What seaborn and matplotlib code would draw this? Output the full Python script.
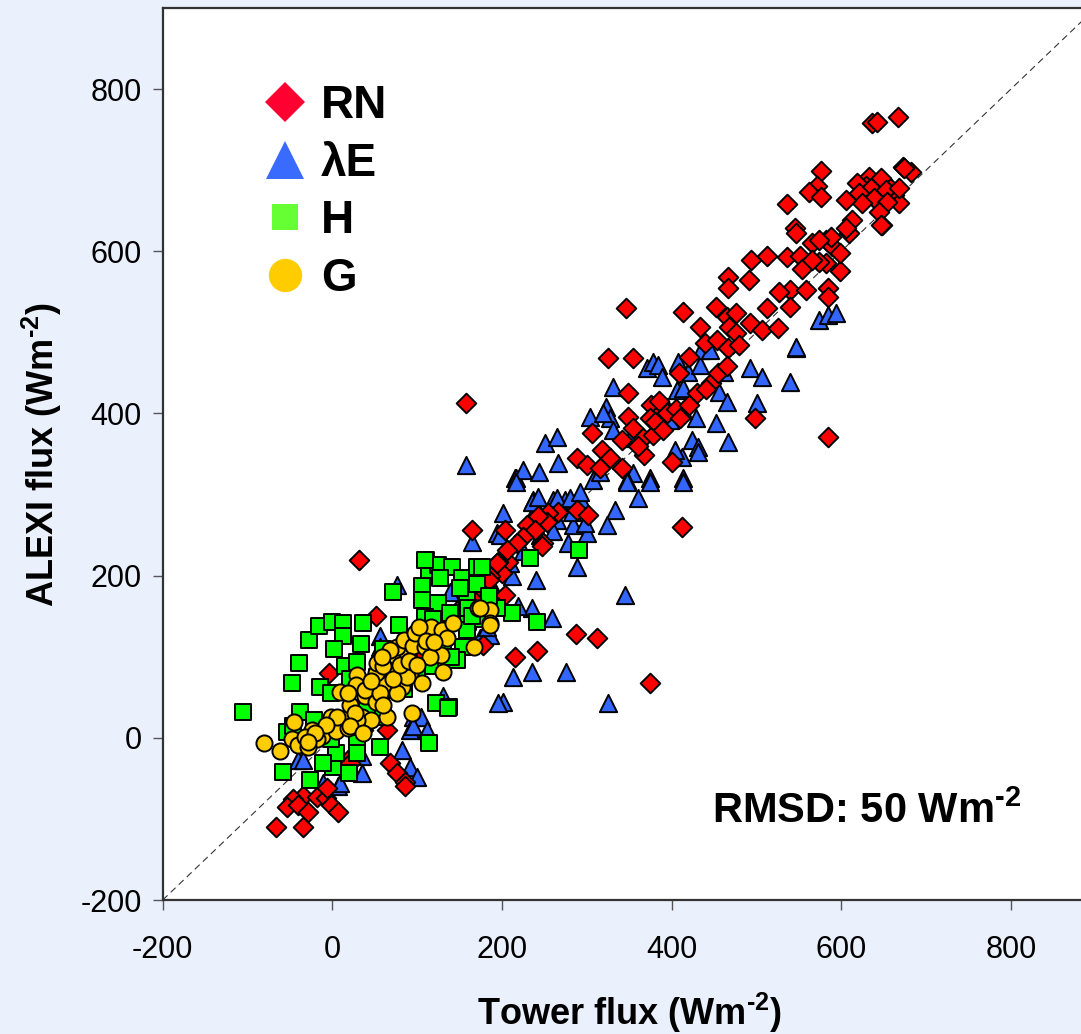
import matplotlib
matplotlib.use("Agg")
import matplotlib.pyplot as plt
from matplotlib.lines import Line2D
import seaborn as sns
import pandas as pd

# ---------------- data ----------------
rn_x = [636, 642, 667, 673, 682, 648, 655, 662, 668, 648, 576, 572, 562, 576, 536, 546, 547,
        494, 512, 536, 551, 566, 582, 589, 609, 582, 598, 554, 574, 467, 466, 491,
        539, 559, 584, 584, 539, 513, 527, 346, 413, 452, 465, 476, 492, 506, 525,
        434, 468, 476, 439, 453, 466, 325, 354, 421, 633, 647, 629, 618, 635, 653, 668, 621, 639,
        625, 654, 606, 645, 647, 674, 613, 606, 588, 574, 598, 566,
        158, 409, 447, 348, 376, 386, 374, 348, 354, 306, 366, 342, 378, 318, 327, 368, 341, 289,
        300, 315, 401, 498, 288, 301, 266, 254, 253, 242, 229, 239, 225, 204, 248, 165, 412,
        380, 395, 405, 420, 390, 410, 360, 430, 440, 455, 465, 480, 385,
        207, 195, 200, 186, 180, 178, 204, 247, 218, 206,
        287, 312, 241, 215, 374, 584, 178,
        31, 51, -4, 68, 76, 86, 86, -35, -46, -53, -41, -29, -18, -8, -2, 7, -67, -35, -6,
        18, 21, 36, 65, 194, 130, 150, 160, 170, 175, 185, 140, 120, 110, 100]
rn_y = [758, 760, 765, 704, 698, 688, 680, 670, 660, 632, 699, 680, 673, 667, 658, 629, 623,
        589, 594, 593, 594, 610, 614, 607, 623, 586, 576, 578, 587, 568, 555, 564,
        552, 552, 555, 543, 531, 530, 550, 530, 525, 531, 519, 524, 512, 503, 505,
        506, 507, 499, 487, 491, 481, 469, 469, 470, 692, 690, 680, 684, 678, 676, 678, 672, 666,
        660, 661, 663, 649, 633, 703, 639, 629, 618, 614, 598, 589,
        413, 450, 438, 425, 411, 401, 395, 396, 382, 376, 370, 367, 374, 355, 345, 349, 333, 345,
        337, 333, 340, 395, 281, 275, 279, 277, 266, 273, 263, 256, 248, 256, 240, 256, 260,
        390, 400, 405, 410, 380, 395, 360, 425, 430, 450, 458, 485, 415,
        217, 217, 203, 199, 189, 176, 176, 236, 240, 232,
        128, 123, 107, 100, 67, 371, 115,
        219, 150, 80, -31, -43, -54, -60, -72, -76, -85, -83, -92, -73, -74, -83, -91, -110, -110, -62,
        -27, -31, 10, 10, 216, 140, 160, 170, 175, 185, 195, 150, 125, 115, 100]

le_x = [158, 215, 201, 165, 194, 251, 265, 216, 225, 244, 266, 304, 323, 331, 327,
        371, 378, 384, 389, 407, 406, 413, 419, 433, 435, 456, 465, 462, 492, 506, 539, 547, 501,
        429, 452, 466, 424, 431, 431, 413, 412, 374, 360, 333, 324, 300, 284, 282, 294, 307, 315,
        354, 347, 394, 398, 413, 404, 351, 331, 319, 236, 260, 274, 233, 265, 298, 198,
        574, 584, 594, 547, 445, 216, 347, 374, 414, 278, 288, 240, 345, 235, 259,
        213, 235, 275, 201, 325, 235, 242, 265, 280, 292, 212, 219, 186,
        76, 139, 131, 195, 95, 104, 112, 92, 82, 92, 100, 35, 35, 7, 9, -11, -41, -34,
        56, 56, 174, 182, 95, 150, 120, 100, 80, 60, 170, 190, 210, 225, 245, 260]
le_y = [337, 321, 277, 242, 253, 364, 371, 321, 330, 328, 339, 396, 408, 433, 395,
        456, 464, 460, 445, 464, 429, 432, 451, 460, 478, 427, 414, 451, 456, 445, 439, 481, 413,
        395, 388, 365, 367, 359, 353, 321, 346, 321, 296, 281, 263, 253, 263, 279, 291, 318, 328,
        327, 318, 408, 392, 404, 355, 370, 380, 401, 293, 293, 293, 269, 269, 265, 250,
        515, 521, 524, 482, 478, 316, 316, 316, 316, 240, 211, 195, 176, 160, 148,
        75, 81, 81, 44, 43, 291, 297, 296, 296, 303, 199, 162, 127,
        189, 180, 51, 43, 26, 26, 10, 10, -15, -36, -48, -23, -43, -60, -56, -56, -27, -27,
        125, 112, 123, 137, 14, 150, 110, 95, 80, 60, 160, 185, 215, 230, 250, 255]

h_x = [-105, -48, -39, -27, -16, 0, 12, 13, 2, 36, 34, 72, 106, 106, 111, 114, 125, 141, 153, 171,
       127, 124, 109, 79, 159, 160, -14, -2, 15, 29, -38, -53, -22, -58, -26, 1, 20, 29, 4, -11,
       56, 114, 122, 138, 154, 147, 100, 119, 139, 160, 178, 194, 159, 115, 100, 68, 53, 21, 41,
       60, 13, -2, -29, -46, 29, 291, 233, 212, 241, 194, 176, 109, 136,
       80, 90, 70, 130, 45, 85, 140, 60, 150, 170, 185, 165]
h_y = [32, 68, 92, 121, 138, 143, 141, 125, 109, 141, 116, 180, 187, 170, 219, 207, 213, 211, 197, 211,
       197, 166, 149, 139, 174, 143, 63, 55, 88, 94, 32, 7, 22, -42, -52, -36, -43, -6, -19, -31,
       -11, -7, 43, 38, 112, 96, 121, 146, 154, 160, 146, 160, 133, 88, 80, 72, 75, 72, 38,
       26, 14, -2, -2, 14, -19, 231, 222, 154, 143, 160, 211, 219, 37,
       100, 110, 90, 120, 60, 60, 100, 110, 185, 190, 175, 150]

g_x = [-81, -62, -45, -48, -41, -24, -12, 4, 18, -1, 20, 35, 9, 21, 29, 28, 38, 51, 65, 60, 51, 71,
       60, 73, 88, 92, 106, 82, 76, 84, 95, 109, 98, 116, 129, 135, 128, 131, 115, 102, 142, 172,
       186, 186, 167, 94, -32, -18, -29, 53, 60, 39, 45, 29, 56, 76, 88, 71, 60, 6, 18, 27, 21,
       36, -8, -20, -29, 174, 186, 80, 90, 100, 110, 120, 68, 58, 45]
g_y = [-6, -16, 20, -2, -9, 10, 2, 9, 12, 26, 26, 26, 57, 41, 78, 65, 51, 44, 26, 65, 80, 84,
       99, 102, 105, 80, 68, 63, 112, 121, 113, 112, 129, 137, 133, 123, 102, 81, 100, 137, 141, 160,
       158, 141, 112, 31, 1, -2, -11, 92, 88, 59, 22, 22, 55, 55, 75, 72, 41, 26, 55, 31, 14,
       6, 16, 6, -5, 160, 139, 90, 95, 90, 120, 118, 108, 100, 70]

labels = ["RN", "λE", "H", "G"]
tick_vals = [-200, 0, 200, 400, 600, 800]

# ---------------- styling ----------------
plt.rcParams['font.family'] = ['Liberation Sans', 'DejaVu Sans']
plt.rcParams['mathtext.fontset'] = 'custom'
plt.rcParams['mathtext.rm'] = 'Liberation Sans:bold'
plt.rcParams['mathtext.it'] = 'Liberation Sans:bold'
plt.rcParams['mathtext.bf'] = 'Liberation Sans:bold'
plt.rcParams['axes.unicode_minus'] = False

bg = '#EAF0FC'
c_rn, c_le, c_h, c_g = '#FF0000', '#3366FF', '#00FF00', '#FFCC00'
c_rn_leg, c_le_leg, c_h_leg, c_g_leg = '#FF0030', '#3A6BFF', '#66FF33', '#FFCC00'

fig = plt.figure(figsize=(10.81, 10.34), dpi=100, facecolor=bg)
ax = fig.add_axes([162.7 / 1081, 134 / 1034, 933 / 1081, 892 / 1034])
ax.set_facecolor('white')

# 1:1 line
ax.plot([-200, 900], [-200, 900], linestyle=(0, (6, 4)), color='#333333', linewidth=0.8, zorder=1)

df_le = pd.DataFrame({'x': le_x, 'y': le_y})
df_rn = pd.DataFrame({'x': rn_x, 'y': rn_y})
df_h = pd.DataFrame({'x': h_x, 'y': h_y})
df_g = pd.DataFrame({'x': g_x, 'y': g_y})

ew = 1.4
sns.scatterplot(data=df_le, x='x', y='y', marker='^', s=155, color=c_le, edgecolor='black',
                linewidth=ew, ax=ax, zorder=2, legend=False)
sns.scatterplot(data=df_rn, x='x', y='y', marker='D', s=100, color=c_rn, edgecolor='black',
                linewidth=ew, ax=ax, zorder=3, legend=False)
sns.scatterplot(data=df_h, x='x', y='y', marker='s', s=125, color=c_h, edgecolor='black',
                linewidth=ew, ax=ax, zorder=4, legend=False)
sns.scatterplot(data=df_g, x='x', y='y', marker='o', s=135, color=c_g, edgecolor='black',
                linewidth=ew, ax=ax, zorder=5, legend=False)

ax.set_xlim(-200, 900)
ax.set_ylim(-200, 900)
ax.set_xticks(tick_vals)
ax.set_yticks(tick_vals)
ax.set_xticklabels([str(v) for v in tick_vals])
ax.set_yticklabels([str(v) for v in tick_vals])
ax.tick_params(axis='both', direction='out', length=7, width=1, color='#555555',
               labelsize=22, labelcolor='black')
ax.tick_params(axis='x', pad=18)
ax.tick_params(axis='y', pad=8)
for side in ['left', 'bottom', 'top', 'right']:
    ax.spines[side].set_color('#333333')
    ax.spines[side].set_linewidth(1.6)

ax.set_xlabel('Tower flux (Wm$^{\\text{-2}}$)', fontsize=26, fontweight='bold', labelpad=19)
ax.set_ylabel('ALEXI flux (Wm$^{\\text{-2}}$)', fontsize=26, fontweight='bold', labelpad=12)

ax.text(0.589, 0.086, 'RMSD: 50 Wm$^{\\text{-2}}$', transform=ax.transAxes, fontsize=30,
        fontweight='bold', ha='left', va='baseline')

handles = [
    Line2D([], [], marker='D', linestyle='', color=c_rn_leg, markersize=20, markeredgewidth=0),
    Line2D([], [], marker='^', linestyle='', color=c_le_leg, markersize=27, markeredgewidth=0),
    Line2D([], [], marker='s', linestyle='', color=c_h_leg, markersize=19, markeredgewidth=0),
    Line2D([], [], marker='o', linestyle='', color=c_g_leg, markersize=24, markeredgewidth=0),
]
leg = ax.legend(handles, labels, loc='upper left', bbox_to_anchor=(0.106, 0.915),
                frameon=False, borderpad=0, handlelength=1.0, handletextpad=0.3,
                labelspacing=0.3, borderaxespad=0,
                prop={'family': ['Liberation Sans', 'DejaVu Sans'], 'weight': 'bold', 'size': 33})

fig.savefig('out.png', dpi=100, facecolor=bg)
